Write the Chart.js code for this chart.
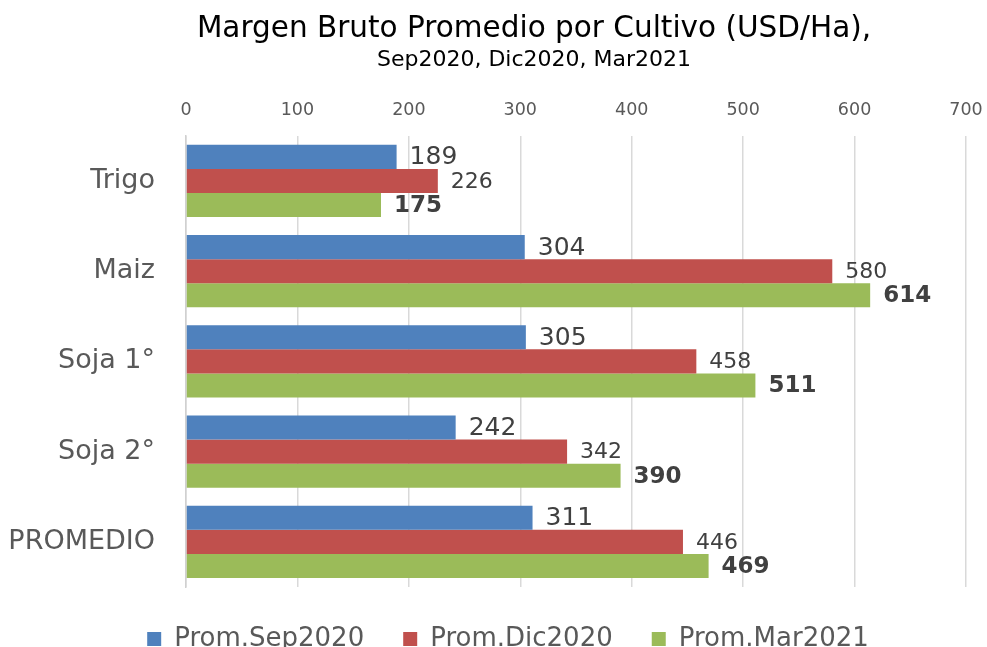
<!DOCTYPE html>
<html>
<head>
<meta charset="utf-8">
<script src="https://cdn.jsdelivr.net/npm/chart.js@4.4.1/dist/chart.umd.min.js"></script>
<style>
  html, body { margin: 0; padding: 0; overflow: hidden; background: #fff; }
  #wrap { width: 987px; height: 647px; overflow: hidden; }
  #box { width: 987px; height: 662px; }
</style>
</head>
<body>
<div id="wrap"><div id="box"><canvas id="chart"></canvas></div></div>
<script>
const cultivos = ['Trigo', 'Maiz', 'Soja 1°', 'Soja 2°', 'PROMEDIO'];
const promSep2020 = [189, 304, 305, 242, 311];
const promDic2020 = [226, 580, 458, 342, 446];
const promMar2021 = [175, 614, 511, 390, 469];
const xTicks = [0, 100, 200, 300, 400, 500, 600, 700];

const FONT = 'DejaVu Sans';

// value labels drawn just past the end of each bar
const labelFonts = [
  { size: 25, weight: 'normal' },
  { size: 22, weight: 'normal' },
  { size: 23, weight: 'bold' }
];
const barLabels = {
  id: 'barLabels',
  afterDatasetsDraw(chart) {
    const ctx = chart.ctx;
    ctx.save();
    chart.data.datasets.forEach((ds, i) => {
      const meta = chart.getDatasetMeta(i);
      const f = labelFonts[i];
      ctx.font = f.weight + ' ' + f.size + 'px "' + FONT + '"';
      ctx.fillStyle = '#404040';
      ctx.textAlign = 'left';
      ctx.textBaseline = 'middle';
      meta.data.forEach((bar, j) => {
        ctx.fillText(ds.data[j], bar.x + 13, bar.y + 1);
      });
    });
    ctx.restore();
  }
};

// titles and legend sit a bit right of the canvas centre in the original
const shiftBoxes = {
  id: 'shiftBoxes',
  afterLayout(chart) {
    chart.boxes.forEach(b => {
      let dx = 0;
      if (b === chart.legend) dx = 25;
      else if (b.options && b.options.text) dx = 51;
      b.left += dx;
      b.right += dx;
    });
  }
};

new Chart(document.getElementById('chart'), {
  type: 'bar',
  data: {
    labels: cultivos,
    datasets: [
      { label: 'Prom.Sep2020', data: promSep2020, backgroundColor: '#4f81bd' },
      { label: 'Prom.Dic2020', data: promDic2020, backgroundColor: '#c0504d' },
      { label: 'Prom.Mar2021', data: promMar2021, backgroundColor: '#9bbb59' }
    ]
  },
  options: {
    indexAxis: 'y',
    responsive: true,
    maintainAspectRatio: false,
    animation: false,
    categoryPercentage: 0.8,
    barPercentage: 1.0,
    layout: { padding: { left: 0, right: 21, top: 0, bottom: 0 } },
    scales: {
      x: {
        position: 'top',
        min: 0,
        max: 700,
        afterBuildTicks: scale => { scale.ticks = xTicks.map(v => ({ value: v })); },
        afterFit: scale => { scale.paddingLeft = 0; scale.paddingRight = 0; },
        ticks: { color: '#595959', font: { family: FONT, size: 17.5 }, padding: 15 },
        grid: { color: '#d9d9d9', lineWidth: 1.5, drawTicks: false },
        border: { display: false }
      },
      y: {
        afterFit: scale => { scale.width = 186; },
        ticks: { color: '#595959', font: { family: FONT, size: 27 }, padding: 31 },
        grid: { display: false, drawTicks: false },
        border: { display: true, color: '#d0d0d0', width: 1.5 }
      }
    },
    plugins: {
      title: {
        display: true,
        text: 'Margen Bruto Promedio por Cultivo (USD/Ha),',
        color: '#000',
        font: { family: FONT, size: 29.5, weight: 'normal', lineHeight: 1.2 },
        padding: { top: 12, bottom: 0 }
      },
      subtitle: {
        display: true,
        text: 'Sep2020, Dic2020, Mar2021',
        color: '#000',
        font: { family: FONT, size: 22, weight: 'normal', lineHeight: 1.2 },
        padding: { top: 0, bottom: 11 }
      },
      legend: {
        position: 'bottom',
        labels: {
          color: '#595959',
          font: { family: FONT, size: 26 },
          boxWidth: 14,
          boxHeight: 14,
          padding: 39
        }
      },
      tooltip: { enabled: false }
    }
  },
  plugins: [barLabels, shiftBoxes]
});
</script>
</body>
</html>
